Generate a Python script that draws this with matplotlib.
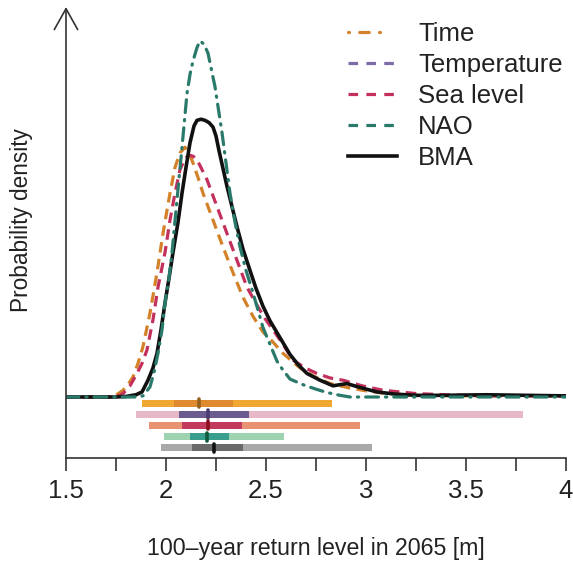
import matplotlib
matplotlib.use("Agg")
import matplotlib.pyplot as plt
from matplotlib.lines import Line2D

plt.rcParams['font.family'] = ['Liberation Sans', 'DejaVu Sans']

# density curves
time_x = [1.5, 1.72, 1.745, 1.785, 1.81, 1.835, 1.86, 1.885, 1.92, 1.955, 1.985, 2.02, 2.045, 2.07,
          2.095, 2.115, 2.135, 2.16, 2.185, 2.21, 2.235, 2.285, 2.335, 2.385, 2.435, 2.485, 2.535,
          2.585, 2.63, 2.67, 2.745, 2.82, 2.92, 3.0, 3.085, 3.25, 3.5, 3.75, 4.0]
time_y = [0, 0, 0.01, 0.06, 0.11, 0.18, 0.3, 0.45, 0.75, 1.11, 1.46, 1.82, 2.05, 2.18,
          2.23, 2.18, 2.09, 1.96, 1.82, 1.70, 1.58, 1.34, 1.11, 0.89, 0.72, 0.58, 0.49,
          0.39, 0.32, 0.26, 0.18, 0.12, 0.08, 0.055, 0.035, 0.015, 0.01, 0.01, 0.01]

sea_x = [1.5, 1.75, 1.785, 1.82, 1.855, 1.88, 1.905, 1.935, 1.96, 1.995, 2.02, 2.045, 2.07, 2.095,
         2.115, 2.135, 2.155, 2.18, 2.205, 2.255, 2.305, 2.355, 2.405, 2.455, 2.495, 2.535, 2.585,
         2.635, 2.695, 2.755, 2.82, 2.885, 2.98, 3.085, 3.255, 3.4, 3.585, 3.8, 4.0]
sea_y = [0, 0, 0.03, 0.1, 0.21, 0.3, 0.42, 0.69, 0.98, 1.29, 1.58, 1.82, 2.03, 2.13,
         2.16, 2.15, 2.12, 2.03, 1.94, 1.70, 1.46, 1.22, 0.98, 0.82, 0.70, 0.6, 0.47,
         0.33, 0.26, 0.21, 0.17, 0.15, 0.1, 0.06, 0.03, 0.02, 0.01, 0.01, 0.01]

nao_x = [1.5, 1.85, 1.885, 1.92, 1.94, 1.96, 1.98, 1.995, 2.015, 2.03, 2.055, 2.08, 2.105, 2.12,
         2.135, 2.155, 2.17, 2.19, 2.21, 2.245, 2.28, 2.32, 2.345, 2.37, 2.40, 2.435, 2.485, 2.52,
         2.555, 2.585, 2.62, 2.685, 2.75, 2.805, 2.87, 2.92, 3.0, 3.3, 3.6, 4.0]
nao_y = [0, 0, 0.01, 0.09, 0.22, 0.39, 0.6, 0.84, 1.06, 1.29, 1.76, 2.23, 2.71, 2.88,
         3.0, 3.12, 3.18, 3.15, 3.07, 2.77, 2.36, 1.82, 1.56, 1.34, 1.13, 0.93, 0.62, 0.47,
         0.32, 0.24, 0.16, 0.11, 0.07, 0.04, 0.015, 0.0, 0.0, 0.0, 0.0, 0.0]

bma_x = [1.5, 1.75, 1.8, 1.85, 1.88, 1.91, 1.935, 1.955, 1.975, 1.995, 2.015, 2.035, 2.06, 2.08,
         2.10, 2.12, 2.14, 2.155, 2.175, 2.195, 2.215, 2.235, 2.25, 2.265, 2.285, 2.305, 2.33,
         2.355, 2.385, 2.42, 2.45, 2.485, 2.52, 2.57, 2.62, 2.66, 2.705, 2.77, 2.835, 2.87, 2.905,
         2.96, 3.055, 3.15, 3.255, 3.4, 3.6, 3.8, 4.0]
bma_y = [0, 0, 0.005, 0.02, 0.045, 0.15, 0.26, 0.39, 0.6, 0.84, 1.06, 1.29, 1.56, 1.82,
         2.05, 2.27, 2.42, 2.47, 2.48, 2.47, 2.45, 2.41, 2.33, 2.2, 2.04, 1.88, 1.70,
         1.52, 1.32, 1.13, 0.97, 0.81, 0.68, 0.53, 0.38, 0.29, 0.21, 0.15, 0.10, 0.11, 0.12,
         0.09, 0.045, 0.025, 0.015, 0.015, 0.02, 0.015, 0.01]

# interval bars: 95% range, 50% range, median
models = ['Time', 'Temperature', 'Sea level', 'NAO', 'BMA']
lo95 = [1.879, 1.85, 1.913, 1.99, 1.973]
hi95 = [2.828, 3.787, 2.97, 2.59, 3.03]
lo50 = [2.04, 2.063, 2.08, 2.12, 2.13]
hi50 = [2.333, 2.415, 2.38, 2.315, 2.385]
medians = [2.167, 2.208, 2.208, 2.207, 2.24]

light_cols = ['#F0A830', '#E6B8C8', '#E89272', '#9DD3AE', '#A9A9A9']
dark_cols = ['#E08A30', '#6B5B8E', '#C23A5E', '#3A9E8E', '#6A6A6A']
med_cols = ['#94601E', '#4A3A70', '#8A1020', '#0E5A3A', '#111111']
line_cols = ['#D4822A', '#7D6CA8', '#C2305B', '#2A7A6B', '#111111']

fig = plt.figure(figsize=(5.73, 5.63), dpi=100)
ax = fig.add_axes([66 / 573, 1 - 458 / 563, 500 / 573, 450 / 563])
ax.set_xlim(1.5, 4.0)
ymin, ymax = -61 / 112, 389 / 112
ax.set_ylim(ymin, ymax)

dash = (3.3, 2.0)
ax.plot(time_x, time_y, color=line_cols[0], lw=2.3, dashes=dash)
ax.plot(sea_x, sea_y, color=line_cols[2], lw=2.3, dashes=dash)
ax.plot(bma_x, bma_y, color=line_cols[4], lw=2.6, solid_joinstyle='round')
ax.plot(nao_x, nao_y, color=line_cols[3], lw=2.3, dashes=(4.0, 2.2, 0.4, 2.2),
        dash_capstyle='round')

bar_y = [-6 / 112, -17 / 112, -28 / 112, -39.5 / 112, -50.5 / 112]
bh = 7 / 112
for i in range(len(models)):
    ax.barh(bar_y[i], hi95[i] - lo95[i], left=lo95[i], height=bh, color=light_cols[i], lw=0)
    ax.barh(bar_y[i], hi50[i] - lo50[i], left=lo50[i], height=bh, color=dark_cols[i], lw=0)
    ax.plot([medians[i], medians[i]], [bar_y[i] - 4 / 112, bar_y[i] + 4 / 112],
            color=med_cols[i], lw=2.6, solid_capstyle='round')

# axes: arrow on y, ticks on x
for s in ['top', 'right', 'left']:
    ax.spines[s].set_visible(False)
ax.spines['bottom'].set_color('#333333')
ax.spines['bottom'].set_linewidth(1.2)
ax.annotate('', xy=(1.5, ymax + 1 / 112), xytext=(1.5, ymin), xycoords='data',
            arrowprops=dict(arrowstyle='->,head_length=0.75,head_width=0.42',
                            color='#333333', lw=1.2, mutation_scale=20,
                            shrinkA=0, shrinkB=0), annotation_clip=False)
ax.set_yticks([])
ticks = [1.5 + 0.25 * k for k in range(11)]
labels = [('%g' % t if k % 2 == 0 else '') for k, t in enumerate(ticks)]
ax.set_xticks(ticks)
ax.set_xticklabels(labels, fontsize=18.5)
ax.tick_params(axis='x', length=9, width=1.2, color='#333333', pad=6, labelcolor='#222222')

fig.text(316 / 573, 1 - 548 / 563, '100\u2013year return level in 2065 [m]',
         fontsize=16.7, ha='center', va='center', color='#222222')
fig.text(22 / 573, 1 - 220 / 563, 'Probability density', fontsize=16.3,
         rotation=90, ha='center', va='center', color='#222222')

handles = [
    Line2D([], [], color=line_cols[0], lw=2.3, dashes=(0.3, 3.2, 3.0, 3.2, 0.3, 10), dash_capstyle='round'),
    Line2D([], [], color=line_cols[1], lw=2.3, dashes=(3.0, 2.6)),
    Line2D([], [], color=line_cols[2], lw=2.3, dashes=(3.0, 2.6)),
    Line2D([], [], color=line_cols[3], lw=2.3, dashes=(3.0, 2.6)),
    Line2D([], [], color=line_cols[4], lw=2.6),
]
ax.legend(handles, models, loc='upper left', bbox_to_anchor=(348 / 573, 1 - 22 / 563),
          bbox_transform=fig.transFigure, frameon=False, fontsize=18.5,
          borderpad=0, borderaxespad=0, handlelength=1.9, handletextpad=0.82,
          labelspacing=0.27, labelcolor='#222222')

fig.savefig('out.png', dpi=100)
